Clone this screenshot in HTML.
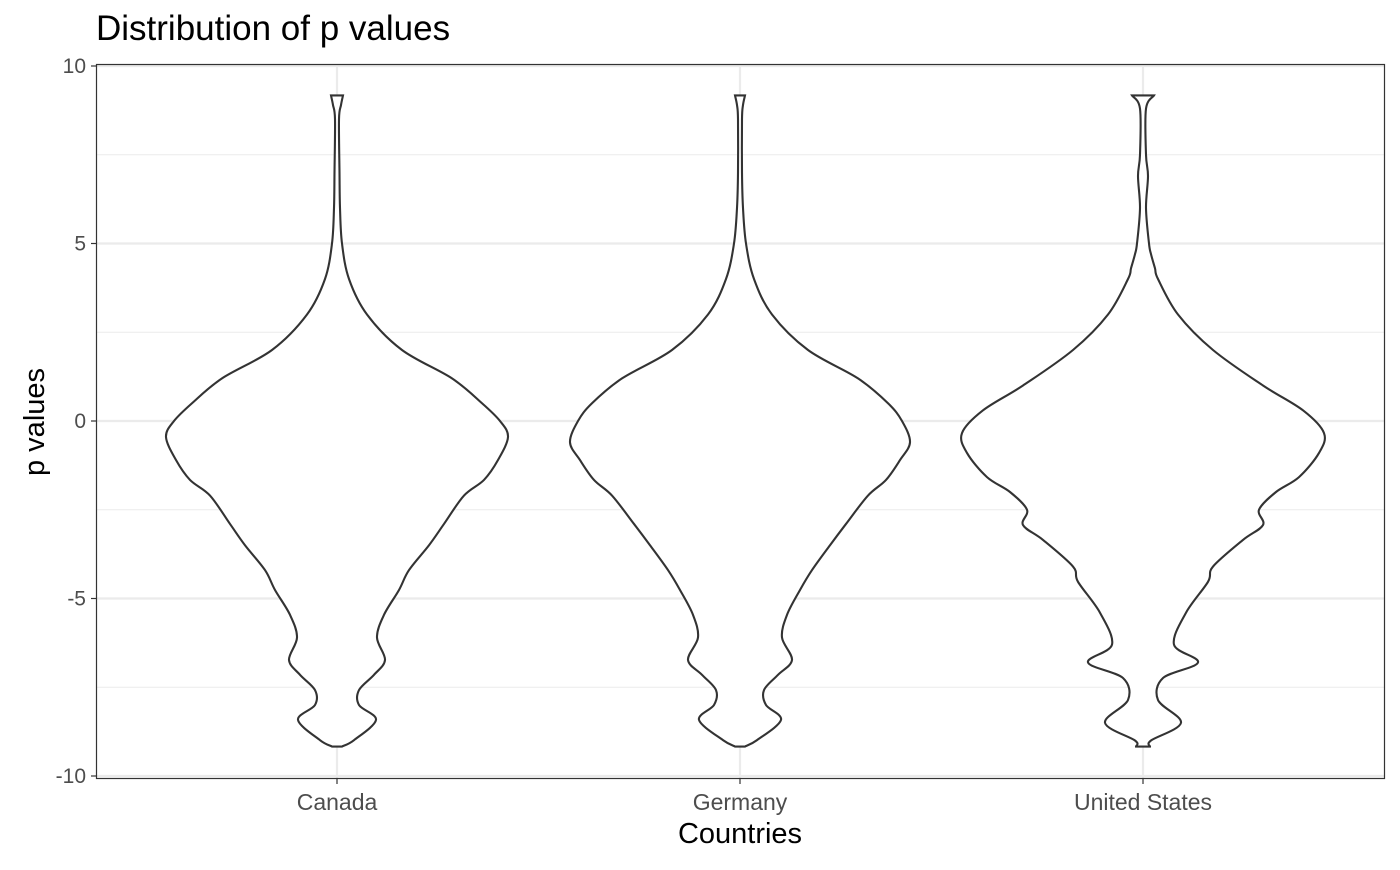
<!DOCTYPE html>
<html><head><meta charset="utf-8"><style>
body{margin:0;background:#fff;font-family:"Liberation Sans",Arial,sans-serif}
</style></head><body>
<svg id="chart" width="1400" height="865" xmlns="http://www.w3.org/2000/svg" font-family="Liberation Sans, Arial, sans-serif">
<rect x="0" y="0" width="1400" height="865" fill="#fff"/>
<g id="grid"></g>
<g id="violins"></g>
<rect x="96.5" y="64.5" width="1288" height="714" fill="none" stroke="#333" stroke-width="1.2"/>
<g id="axes"></g>
<text x="96" y="40" font-size="35" fill="#000">Distribution of p values</text>
<text x="740" y="843" font-size="29" text-anchor="middle" fill="#000">Countries</text>
<text x="0" y="0" font-size="29" text-anchor="middle" fill="#000" transform="translate(44,422) rotate(-90)">p values</text>
</svg>
<script>
const categories = ["Canada","Germany","United States"];
const yTicks = [-10,-5,0,5,10];
const yMinor = [-7.5,-2.5,2.5,7.5];
const canadaY = [9.17,8.9,8.5,7,6,5,4,3,2,1.2,0.5,0,-0.45,-1.1,-1.66,-2.1,-2.9,-3.5,-4.2,-4.76,-5.46,-6.1,-6.73,-7.15,-7.58,-8.0,-8.42,-8.99,-9.17];
const canadaW = [6,4,2,2.5,3,5,12,30,65,115,145,163,171,161,147,127,107,92,72,62,47,40,48,37,22,22,39,17,5];
const germanyY = [9.17,8.9,8.5,7,6,5,4,3,2,1.2,0.5,0,-0.6,-1.1,-1.66,-2.1,-2.9,-3.5,-4.2,-4.76,-5.46,-6.1,-6.73,-7.15,-7.58,-8.0,-8.42,-8.99,-9.17];
const germanyW = [5,3,2,2,3,6,14,32,68,118,148,162,170,160,146,128,106,90,72,60,47,42,52,38,24,26,41,17,5];
const usY = [9.17,8.8,7.5,6.9,6,5,4.7,4.3,4,3,2,1,0.3,-0.34,-0.9,-1.58,-2.0,-2.5,-2.93,-3.35,-4.1,-4.53,-5.4,-6.3,-6.8,-7.24,-7.86,-8.5,-9.0,-9.17];
const usW = [11,3,3,5,3,6,8,12,15,35,70,120,160,181,176,156,133,116,120,100,70,65,43,31,55,20,15,38,8,7];
const series = [[canadaY,canadaW],[germanyY,germanyW],[usY,usW]];

const NS="http://www.w3.org/2000/svg";
const yS = v => 421 - v*35.5;
const xS = i => 337 + i*403;
const wScale = 1;
function mk(tag,attrs,parent){const e=document.createElementNS(NS,tag);for(const k in attrs)e.setAttribute(k,attrs[k]);parent.appendChild(e);return e;}
const grid=document.getElementById('grid'), axes=document.getElementById('axes'), vg=document.getElementById('violins');
yMinor.forEach(v=>{const l=mk('line',{x1:97,x2:1384,y1:yS(v),y2:yS(v),stroke:'#ebebeb','stroke-width':1.1},grid);

});
yTicks.forEach(v=>{const l=mk('line',{x1:97,x2:1384,y1:yS(v),y2:yS(v),stroke:'#ebebeb','stroke-width':2.2},grid);


const t=mk('line',{x1:91,x2:96,y1:yS(v),y2:yS(v),stroke:'#333','stroke-width':1.2},axes);


const tx=mk('text',{x:86,y:yS(v)+7,'font-size':21,'text-anchor':'end',fill:'#4d4d4d'},axes);tx.textContent=v;

});
categories.forEach((c,i)=>{const l=mk('line',{x1:xS(i),x2:xS(i),y1:65,y2:778,stroke:'#ebebeb','stroke-width':2.2},grid);


const t=mk('line',{x1:xS(i),x2:xS(i),y1:779,y2:784,stroke:'#333','stroke-width':1.2},axes);


const tx=mk('text',{x:xS(i),y:810,'font-size':23,'text-anchor':'middle',fill:'#4d4d4d'},axes);tx.textContent=c;

});
function smooth(pts){let d=`M${pts[0][0]},${pts[0][1]}`;for(let i=0;i<pts.length-1;i++){const p0=pts[Math.max(0,i-1)],p1=pts[i],p2=pts[i+1],p3=pts[Math.min(pts.length-1,i+2)];
const c1=[p1[0]+(p2[0]-p0[0])/6,p1[1]+(p2[1]-p0[1])/6],c2=[p2[0]-(p3[0]-p1[0])/6,p2[1]-(p3[1]-p1[1])/6];
d+=` C${c1[0]},${c1[1]} ${c2[0]},${c2[1]} ${p2[0]},${p2[1]}`;}return d;}
series.forEach(([ys,ws],i)=>{const cx=xS(i);
const right=ys.map((y,k)=>[cx+ws[k]*wScale,yS(y)]);
const left=ys.map((y,k)=>[cx-ws[k]*wScale,yS(y)]).reverse();
const d=smooth(right)+' L'+left[0][0]+','+left[0][1]+smooth(left).replace(/^M[^C]*/,' ')+' Z';
const p=mk('path',{d:d,fill:'#fff',stroke:'#333','stroke-width':2.1},vg);

});
</script>
</body></html>
